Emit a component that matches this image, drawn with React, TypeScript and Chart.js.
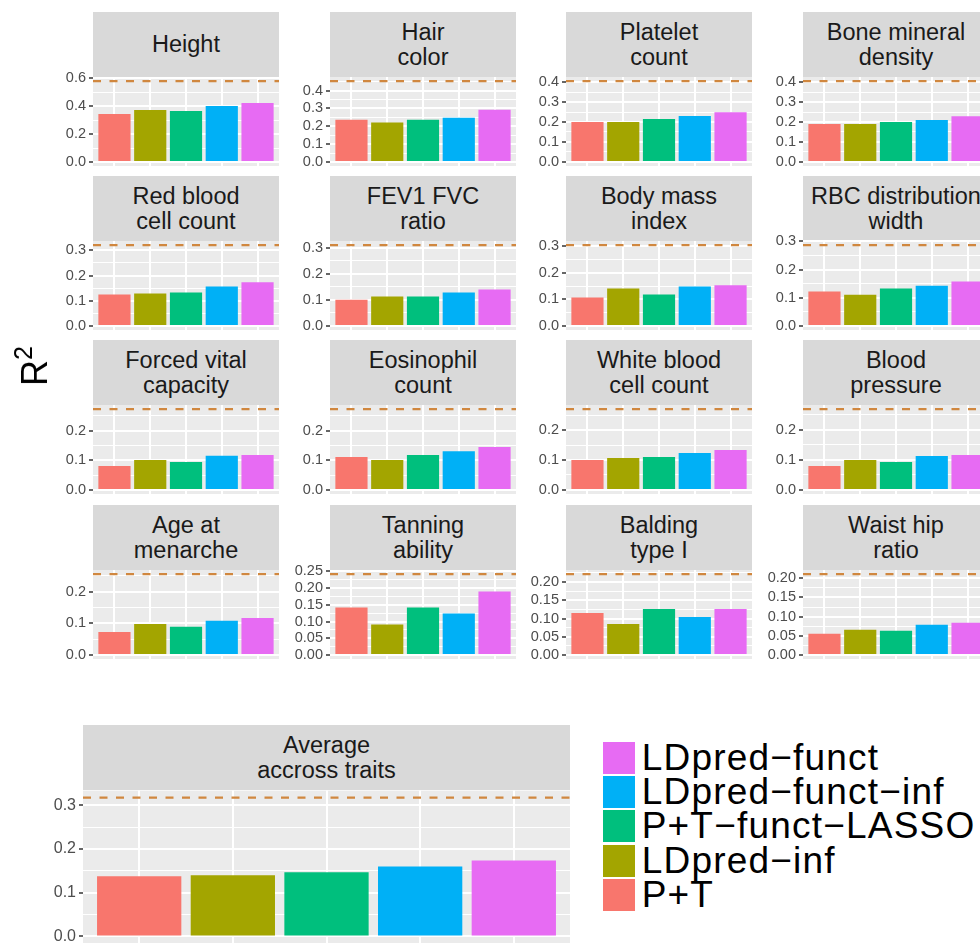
import React, { useEffect, useRef } from "react";
import { Chart, registerables } from "chart.js";
Chart.register(...registerables);

const FONT = "'Liberation Sans', Arial, Helvetica, sans-serif";

// ---- data ----
const METHODS = ["P+T", "LDpred−inf", "P+T−funct−LASSO", "LDpred−funct−inf", "LDpred−funct"];
const COLORS = ["#F8766D", "#A3A500", "#00BF7D", "#00B0F6", "#E76BF3"];

const TRAITS = [
  "Height", "Hair\ncolor", "Platelet\ncount", "Bone mineral\ndensity",
  "Red blood\ncell count", "FEV1 FVC\nratio", "Body mass\nindex", "RBC distribution\nwidth",
  "Forced vital\ncapacity", "Eosinophil\ncount", "White blood\ncell count", "Blood\npressure",
  "Age at\nmenarche", "Tanning\nability", "Balding\ntype I", "Waist hip\nratio",
];

const R2_PT = [0.345, 0.237, 0.200, 0.190, 0.125, 0.101, 0.107, 0.122, 0.081, 0.111, 0.100, 0.080, 0.073, 0.142, 0.115, 0.055];
const R2_LDPRED_INF = [0.373, 0.221, 0.200, 0.190, 0.129, 0.113, 0.141, 0.111, 0.101, 0.101, 0.107, 0.100, 0.098, 0.091, 0.085, 0.066];
const R2_PT_FUNCT_LASSO = [0.366, 0.237, 0.215, 0.200, 0.133, 0.113, 0.119, 0.133, 0.094, 0.118, 0.110, 0.093, 0.089, 0.142, 0.126, 0.063];
const R2_LDPRED_FUNCT_INF = [0.402, 0.248, 0.230, 0.210, 0.157, 0.129, 0.149, 0.143, 0.115, 0.131, 0.123, 0.113, 0.108, 0.124, 0.104, 0.079];
const R2_LDPRED_FUNCT = [0.424, 0.293, 0.249, 0.229, 0.173, 0.140, 0.153, 0.158, 0.118, 0.145, 0.133, 0.116, 0.117, 0.190, 0.126, 0.084];
const HERITABILITY = [0.581, 0.454, 0.405, 0.405, 0.321, 0.311, 0.305, 0.287, 0.273, 0.273, 0.270, 0.269, 0.256, 0.242, 0.222, 0.211];
const TICK_STEP = [0.2, 0.1, 0.1, 0.1, 0.1, 0.1, 0.1, 0.1, 0.1, 0.1, 0.1, 0.1, 0.1, 0.05, 0.05, 0.05];
const TICK_DECIMALS = [1, 1, 1, 1, 1, 1, 1, 1, 1, 1, 1, 1, 1, 2, 2, 2];

const AVG_TITLE = "Average\naccross traits";
const AVG_R2 = [0.138, 0.140, 0.147, 0.160, 0.174];
const AVG_HERITABILITY = 0.318;
const AVG_TICK_STEP = 0.1;
const AVG_TICK_DECIMALS = 1;

// ---- layout ----
const COL_X = [93, 330, 566, 803];
const ROW_Y = [12, 176, 340, 505];
const PANEL_W = 186;
const STRIP_H = 65;
const PLOT_H = 89;

type PanelProps = {
  title: string;
  values: number[];
  h: number;
  step: number;
  decimals: number;
  left: number;
  top: number;
  width: number;
  plotH: number;
  tickSize: number;
};

function Panel(p: PanelProps) {
  const ref = useRef<HTMLCanvasElement>(null);
  const AX = 60, PT = 12, PB = 12;
  useEffect(() => {
    const min = -0.05 * p.h;
    const max = 1.05 * p.h;
    const minor = p.step / 2;
    const tickVals: number[] = [];
    for (let k = 0; k * minor <= max + 1e-9; k++) tickVals.push(+(k * minor).toFixed(6));
    const isMajor = (v: number) => Math.abs(v / p.step - Math.round(v / p.step)) < 1e-6;
    const bg = {
      id: "bg",
      beforeDraw(c: any) {
        const { ctx, chartArea: a } = c;
        ctx.save();
        ctx.fillStyle = "#EBEBEB";
        ctx.fillRect(a.left, a.top, a.width, a.height);
        ctx.restore();
      },
    };
    const hl = {
      id: "hline",
      afterDatasetsDraw(c: any) {
        const { ctx, chartArea: a, scales } = c;
        const y = scales.y.getPixelForValue(p.h);
        ctx.save();
        ctx.beginPath();
        ctx.rect(a.left, a.top, a.width, a.height);
        ctx.clip();
        ctx.strokeStyle = "#D0873F";
        ctx.lineWidth = 2.2;
        ctx.setLineDash([8, 8.5]);
        ctx.beginPath();
        ctx.moveTo(a.left, y);
        ctx.lineTo(a.right, y);
        ctx.stroke();
        ctx.restore();
      },
    };
    const chart = new Chart(ref.current as HTMLCanvasElement, {
      type: "bar",
      data: {
        datasets: [
          {
            data: p.values.map((v, i) => ({ x: i + 1, y: v })),
            backgroundColor: COLORS,
            borderWidth: 0,
            barPercentage: 0.9,
            categoryPercentage: 1,
          } as any,
        ],
      },
      options: {
        responsive: false,
        animation: false,
        events: [],
        layout: { padding: { top: PT, bottom: PB, left: 0, right: 0 } },
        plugins: { legend: { display: false }, tooltip: { enabled: false } },
        scales: {
          x: {
            type: "linear",
            min: 0.4,
            max: 5.6,
            bounds: "data",
            offset: false,
            afterBuildTicks: (s: any) => {
              s.ticks = p.values.map((_, i) => ({ value: i + 1 }));
            },
            afterFit: (s: any) => {
              s.height = 0;
            },
            ticks: { display: false },
            grid: { color: "#FFFFFF", lineWidth: 2, drawTicks: false, offset: false },
            border: { display: false },
          },
          y: {
            type: "linear",
            min,
            max,
            bounds: "data",
            afterBuildTicks: (s: any) => {
              s.ticks = tickVals.map((v) => ({ value: v }));
            },
            afterFit: (s: any) => {
              s.width = AX;
            },
            grid: {
              color: "#FFFFFF",
              lineWidth: (ctx: any) => (ctx.tick && isMajor(ctx.tick.value) ? 2 : 1),
              tickColor: (ctx: any) => (ctx.tick && isMajor(ctx.tick.value) ? "#333333" : "rgba(0,0,0,0)"),
              tickWidth: 1.5,
              tickLength: 4,
              drawTicks: true,
            },
            border: { display: false },
            ticks: {
              autoSkip: false,
              padding: 3,
              color: "#4D4D4D",
              font: { family: FONT, size: p.tickSize },
              callback: (v: any) => (isMajor(Number(v)) ? Number(v).toFixed(p.decimals) : ""),
            },
          },
        },
      } as any,
      plugins: [bg, hl],
    });
    return () => chart.destroy();
  }, []);

  return (
    <>
      <div
        style={{
          position: "absolute",
          left: p.left,
          top: p.top,
          width: p.width,
          height: STRIP_H,
          background: "#D9D9D9",
          color: "#1A1A1A",
          fontFamily: FONT,
          fontSize: 23.5,
          lineHeight: 1.04,
          whiteSpace: "pre-line",
          textAlign: "center",
          display: "flex",
          alignItems: "center",
          justifyContent: "center",
        }}
      >
        {p.title}
      </div>
      <canvas
        ref={ref}
        width={AX + p.width}
        height={PT + p.plotH + PB}
        style={{
          position: "absolute",
          left: p.left - AX,
          top: p.top + STRIP_H - PT,
          width: AX + p.width,
          height: PT + p.plotH + PB,
        }}
      />
    </>
  );
}

export default function App() {
  const series = [R2_PT, R2_LDPRED_INF, R2_PT_FUNCT_LASSO, R2_LDPRED_FUNCT_INF, R2_LDPRED_FUNCT];
  const legendOrder = [4, 3, 2, 1, 0];
  return (
    <div
      style={{
        position: "fixed",
        left: 0,
        top: 0,
        width: 980,
        height: 943,
        overflow: "hidden",
        background: "#FFFFFF",
      }}
    >
      {TRAITS.map((t, i) => (
        <Panel
          key={i}
          title={t}
          values={series.map((s) => s[i])}
          h={HERITABILITY[i]}
          step={TICK_STEP[i]}
          decimals={TICK_DECIMALS[i]}
          left={COL_X[i % 4]}
          top={ROW_Y[Math.floor(i / 4)]}
          width={PANEL_W}
          plotH={PLOT_H}
          tickSize={14.5}
        />
      ))}
      <Panel
        title={AVG_TITLE}
        values={AVG_R2}
        h={AVG_HERITABILITY}
        step={AVG_TICK_STEP}
        decimals={AVG_TICK_DECIMALS}
        left={83}
        top={725}
        width={487}
        plotH={154}
        tickSize={16}
      />
      <div
        style={{
          position: "absolute",
          left: 35,
          top: 366,
          transform: "translate(-50%, -50%) rotate(-90deg)",
          fontFamily: FONT,
          fontSize: 36,
          lineHeight: 1,
          color: "#000000",
          whiteSpace: "nowrap",
        }}
      >
        R<span style={{ fontSize: 25, verticalAlign: "top", position: "relative", top: -6 }}>2</span>
      </div>
      {legendOrder.map((m, k) => (
        <div
          key={m}
          style={{
            position: "absolute",
            left: 603,
            top: 742 + k * 34.2,
            height: 32,
            display: "flex",
            alignItems: "center",
            whiteSpace: "nowrap",
          }}
        >
          <div style={{ width: 32, height: 32, background: COLORS[m] }} />
          <span
            style={{
              marginLeft: 6.7,
              fontFamily: FONT,
              fontSize: 37,
              letterSpacing: 1.2,
              lineHeight: "32px",
              color: "#000000",
            }}
          >
            {METHODS[m]}
          </span>
        </div>
      ))}
    </div>
  );
}
